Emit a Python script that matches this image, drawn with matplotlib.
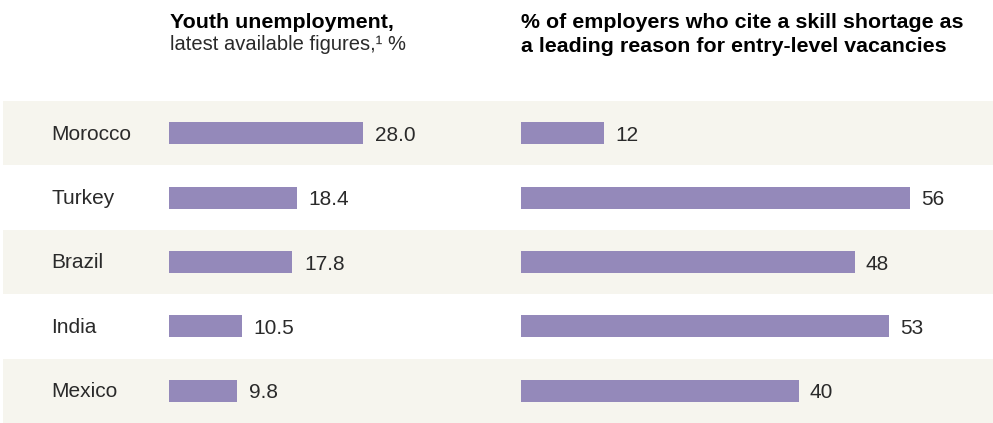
import matplotlib
matplotlib.use("Agg")
import matplotlib.pyplot as plt

countries = ["Morocco", "Turkey", "Brazil", "India", "Mexico"]
youth_unemployment = [28.0, 18.4, 17.8, 10.5, 9.8]
skill_shortage = [12, 56, 48, 53, 40]

W, H = 993, 423
BAR = "#9489BA"
BAND = "#F6F5EE"
TXT = "#2a2a2a"
FONT = "Liberation Sans"

fig = plt.figure(figsize=(W / 100, H / 100), dpi=100)
fig.patch.set_facecolor("white")

def fx(px):
    return px / W

def fy(py):
    return 1 - py / H

top, bottom = 101, 423
n = len(countries)

# background bands
bg = fig.add_axes([fx(3), 0, fx(990), (bottom - top) / H])
bg.set_xlim(0, 1)
bg.set_ylim(n - 0.5, -0.5)
for i in range(n):
    if i % 2 == 0:
        bg.axhspan(i - 0.5, i + 0.5, color=BAND, lw=0)
bg.axis("off")

ypos = list(range(n))

# left panel
axl = fig.add_axes([fx(169), 0, fx(40 * 6.93), (bottom - top) / H])
axl.set_xlim(0, 40)
axl.set_ylim(n - 0.5, -0.5)
axl.barh(ypos, youth_unemployment, height=0.34, color=BAR)
for y, v in zip(ypos, youth_unemployment):
    axl.annotate(f"{v:.1f}", (v, y), xytext=(12, -2), textcoords="offset pixels",
                 va="center", ha="left", fontsize=15, color=TXT, family=FONT)
axl.axis("off")
axl.patch.set_alpha(0)

# right panel
axr = fig.add_axes([fx(521), 0, fx(472), (bottom - top) / H])
axr.set_xlim(0, 472 / 6.95)
axr.set_ylim(n - 0.5, -0.5)
axr.barh(ypos, skill_shortage, height=0.34, color=BAR)
for y, v in zip(ypos, skill_shortage):
    axr.annotate(f"{v}", (v, y), xytext=(11, -2), textcoords="offset pixels",
                 va="center", ha="left", fontsize=15, color=TXT, family=FONT)
axr.axis("off")
axr.patch.set_alpha(0)

# country labels
for y, c in zip(ypos, countries):
    axl.annotate(c, (0, y), xytext=(51 - 169, -1), textcoords="offset pixels",
                 va="center", ha="left", fontsize=15, color=TXT, family=FONT)

# titles
fig.text(fx(170), fy(28), "Youth unemployment,", fontsize=15.4, fontweight="bold",
         color="black", family=FONT, va="baseline")
fig.text(fx(170), fy(50), "latest available figures,\u00b9 %", fontsize=14.5,
         color=TXT, family=FONT, va="baseline")
fig.text(fx(521), fy(28), "% of employers who cite a skill shortage as", fontsize=15.4,
         fontweight="bold", color="black", family=FONT, va="baseline")
fig.text(fx(521), fy(52), "a leading reason for entry-level vacancies", fontsize=15.4,
         fontweight="bold", color="black", family=FONT, va="baseline")

fig.savefig("out.png", dpi=100)
